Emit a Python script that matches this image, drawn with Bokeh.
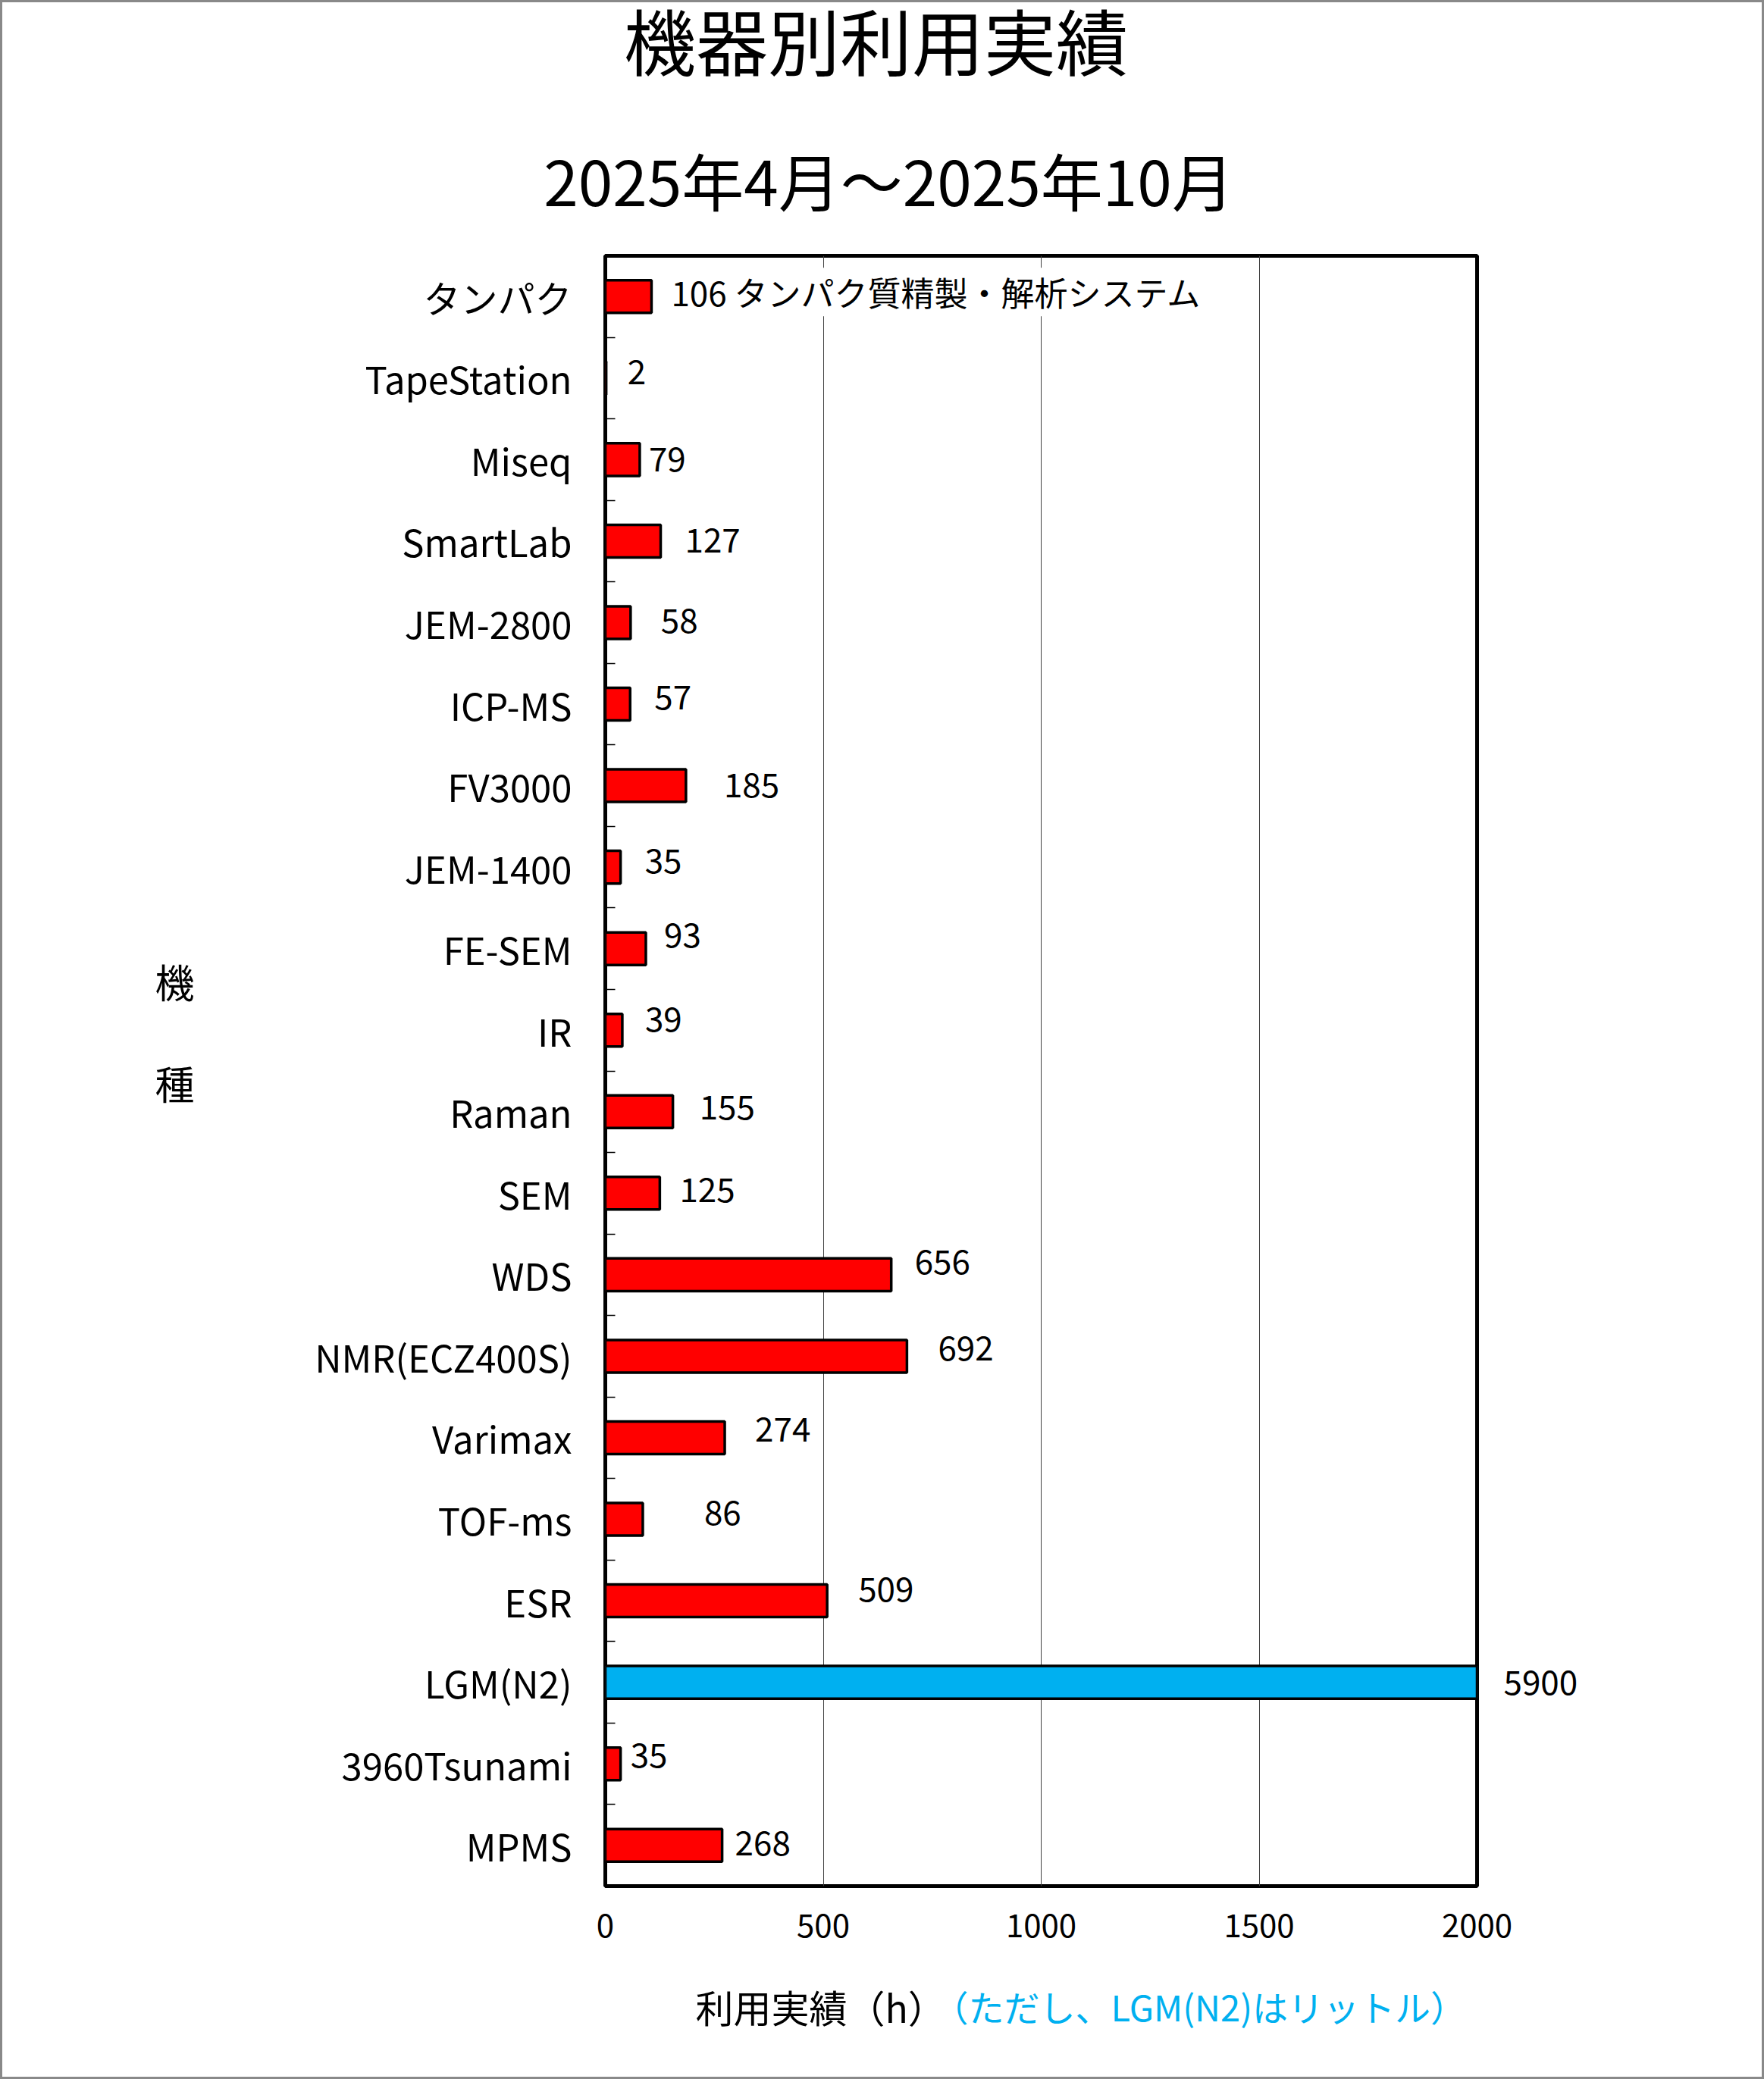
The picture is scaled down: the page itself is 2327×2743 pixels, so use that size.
from bokeh.plotting import figure
from bokeh.layouts import column
from bokeh.models import ColumnDataSource, Range1d, FixedTicker, LabelSet, Label, LinearAxis
from bokeh.core.properties import value
from bokeh.embed import file_html
from bokeh.resources import INLINE

# ---------------- data ----------------
categories = ["タンパク", "TapeStation", "Miseq", "SmartLab", "JEM-2800", "ICP-MS",
              "FV3000", "JEM-1400", "FE-SEM", "IR", "Raman", "SEM", "WDS",
              "NMR(ECZ400S)", "Varimax", "TOF-ms", "ESR", "LGM(N2)", "3960Tsunami", "MPMS"]
usage = [106, 2, 79, 127, 58, 57, 185, 35, 93, 39, 155, 125, 656, 692, 274, 86, 509, 5900, 35, 268]
notes = ["タンパク質精製・解析システム"] + [""] * 19
x_ticks = [0, 500, 1000, 1500, 2000]
title_text = "機器別利用実績"
subtitle_text = "2025年4月～2025年10月"
x_title_text = "利用実績（h）"
x_note_text = "（ただし、LGM(N2)はリットル）"
y_title_chars = ["機", "種"]
litre_category = "LGM(N2)"

# ---------------- style ----------------
FONT = "Noto Sans CJK JP"
RED = "#FF0000"
BLUE = "#00B0F0"
label_dx = [26, 28, 12, 32, 40, 32, 50, 32, 24, 30, 35, 26, 31, 41, 40, 81, 41, 31, 13, 17]
label_raise = [6, 8, 0, 1, 2, 9, 1, 8, 18, 14, 6, 4, 17, 10, 11, 9, 15, 0, 11, 3]

PAD = 3                      # grey page border
W = 2327 - 2 * PAD
ROW_TOP, ROW_MAIN, ROW_BOT, ROW_END = PAD, 330, 2600, 2743 - PAD
H_TOP, H_MAIN, H_BOT = ROW_MAIN - ROW_TOP, ROW_BOT - ROW_MAIN, ROW_END - ROW_BOT
# frame of the main chart, in page pixels
F_LEFT, F_RIGHT, F_TOP, F_BOTTOM = 798, 1948, 337, 2488
B_LEFT = F_LEFT - PAD
B_RIGHT = W - (F_RIGHT - PAD)

n = len(categories)
idx = list(range(n))
xmax = x_ticks[-1]
over = [i for i, v in enumerate(usage) if v > xmax]

src = ColumnDataSource(dict(
    y=idx,
    value=usage,
    color=[BLUE if c == litre_category else RED for c in categories],
    label_x=[min(v, xmax) for v in usage],
    text=[("" if v > xmax else (f"{v} {t}" if t else f"{v}")) for v, t in zip(usage, notes)],
    dx=label_dx,
    dy=label_raise,
))


def text_panel(height, bottom_border=0):
    f = figure(width=W, height=height, output_backend="svg", toolbar_location=None,
               x_axis_location=None, y_axis_location=None, title=None,
               x_range=Range1d(0, F_RIGHT - F_LEFT), y_range=Range1d(0, 1),
               min_border_left=B_LEFT, min_border_right=B_RIGHT,
               min_border_top=0, min_border_bottom=bottom_border)
    f.outline_line_color = None
    f.grid.grid_line_color = None
    f.background_fill_color = "white"
    f.border_fill_color = "white"
    return f


def add_text(f, frame_bottom, txt, rx, ry, size, color="black", align="center"):
    # rx, ry: page position; screen units are relative to the panel's frame (bottom-left)
    f.add_layout(Label(x=rx - F_LEFT, y=frame_bottom - ry, x_units="screen", y_units="screen",
                       text=txt, text_font=FONT, text_font_size=size, text_color=color,
                       text_align=align, text_baseline="middle"))


# ---------------- top panel: titles ----------------
TOP_BORDER = 180
top = text_panel(H_TOP, TOP_BORDER)
top_frame_bottom = ROW_MAIN - TOP_BORDER
add_text(top, top_frame_bottom, title_text, 1155, 51, "95px")
sub_axis = LinearAxis(ticker=FixedTicker(ticks=[1172 - F_LEFT]),
                      major_label_overrides={1172 - F_LEFT: subtitle_text},
                      axis_line_color=None, major_tick_line_color=None, minor_tick_line_color=None,
                      major_label_standoff=170 - top_frame_bottom, major_label_text_font=FONT,
                      major_label_text_font_size="82px", major_label_text_color="black")
top.add_layout(sub_axis, "below")

# ---------------- main chart ----------------
p = figure(width=W, height=H_MAIN, output_backend="svg", toolbar_location=None, title=None,
           x_range=Range1d(x_ticks[0], xmax), y_range=Range1d(n - 0.5, -0.5),
           min_border_left=B_LEFT, min_border_right=B_RIGHT,
           min_border_top=F_TOP - ROW_MAIN, min_border_bottom=ROW_BOT - F_BOTTOM)
p.background_fill_color = "white"
p.border_fill_color = "white"
p.outline_line_color = "black"
p.outline_line_width = 5

# x axis
xt = FixedTicker(ticks=x_ticks)
p.xaxis.ticker = xt
p.xaxis.axis_line_color = None
p.xaxis.major_tick_in = 0
p.xaxis.major_tick_out = 0
p.xaxis.minor_tick_in = 0
p.xaxis.minor_tick_out = 0
p.xaxis.major_label_text_font = FONT
p.xaxis.major_label_text_font_size = "42px"
p.xaxis.major_label_text_color = "black"
p.xaxis.major_label_standoff = 36

# y axis (categories), boundary ticks pointing inwards
yt = FixedTicker(ticks=idx, minor_ticks=[i + 0.5 for i in idx[:-1]])
p.yaxis.ticker = yt
p.yaxis.major_label_overrides = {i: c for i, c in enumerate(categories)}
p.yaxis.axis_line_color = None
p.yaxis.major_tick_in = 0
p.yaxis.major_tick_out = 0
p.yaxis.minor_tick_in = 13
p.yaxis.minor_tick_out = 0
p.yaxis.minor_tick_line_color = "black"
p.yaxis.minor_tick_line_width = 1.5
p.yaxis.major_label_text_font = FONT
p.yaxis.major_label_text_font_size = "49px"
p.yaxis.major_label_text_color = "black"
p.yaxis.major_label_standoff = 44

# y title as a second left axis with horizontal labels
y_title_pos = [8.40, 9.64]
ax_t = LinearAxis(ticker=FixedTicker(ticks=y_title_pos),
                  major_label_overrides={y: c for y, c in zip(y_title_pos, y_title_chars)},
                  axis_line_color=None, major_tick_line_color=None, minor_tick_line_color=None,
                  major_label_standoff=150, major_label_text_font=FONT,
                  major_label_text_font_size="52px", major_label_text_color="black")
p.add_layout(ax_t, "left")

# values beyond the axis maximum, written on the right of the frame
ax_r = LinearAxis(ticker=FixedTicker(ticks=over),
                  major_label_overrides={i: str(usage[i]) for i in over},
                  axis_line_color=None, major_tick_line_color=None, minor_tick_line_color=None,
                  major_label_standoff=29, major_label_text_font=FONT,
                  major_label_text_font_size="44px", major_label_text_color="black")
p.add_layout(ax_r, "right")

# grid
p.xgrid.ticker = xt
p.xgrid.grid_line_color = "#404040"
p.xgrid.grid_line_width = 1
p.ygrid.grid_line_color = None

# bars
p.hbar(y="y", left=0, right="value", height=0.4, fill_color="color",
       line_color="black", line_width=3.5, source=src)

# value labels
p.add_layout(LabelSet(x="label_x", y="y", text="text", x_offset="dx", y_offset="dy",
                      source=src, text_font=value(FONT), text_font_size="44px",
                      text_color="black", text_align="left", text_baseline="middle",
                      background_fill_color="white"))

# ---------------- bottom panel: x title ----------------
bot = text_panel(H_BOT)
add_text(bot, ROW_END, x_title_text, 917, 2646, "50px", align="left")
add_text(bot, ROW_END, x_note_text, 1230, 2646, "47px", color=BLUE, align="left")

layout = column(top, p, bot, spacing=0,
                styles={"padding": f"{PAD}px", "background-color": "white",
                        "box-shadow": f"inset 0 0 0 {PAD}px #898989"})

open("out.html", "w").write(file_html(layout, INLINE))
